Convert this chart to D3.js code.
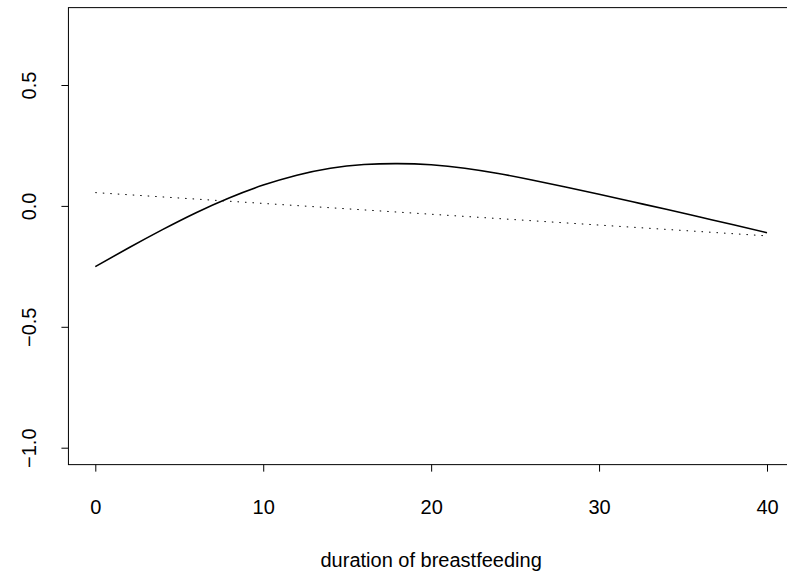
<!DOCTYPE html>
<html>
<head>
<meta charset="utf-8">
<script src="https://cdn.jsdelivr.net/npm/d3@7"></script>
<style>
  html, body { margin: 0; padding: 0; background: #fff; }
  svg { display: block; }
  text { font-family: "Liberation Sans", Arial, sans-serif; fill: #000; }
</style>
</head>
<body>
<script>
// ---- data ----
const durations = [0, 2, 4, 6, 8, 10, 12, 14, 16, 18, 20, 22, 24, 26, 28, 30, 32, 34, 36, 38, 40];
const effect = [-0.251, -0.173, -0.098, -0.028, 0.034, 0.086, 0.127, 0.156, 0.171, 0.175, 0.170,
                0.156, 0.134, 0.107, 0.078, 0.048, 0.017, -0.014, -0.046, -0.078, -0.111];
const linearX = [0, 40];
const linearY = [0.055, -0.124];
const xTicks = [0, 10, 20, 30, 40];
const yTicks = [-1.0, -0.5, 0.0, 0.5];
const xLabel = "duration of breastfeeding";

// ---- layout ----
const W = 787, H = 579;
const svg = d3.select("body").append("svg").attr("width", W).attr("height", H);

const x = d3.scaleLinear().domain([0, 40]).range([95.3, 767]);
const y = d3.scaleLinear().domain([-1, 0.75]).range([447.7, 24.55]);

const pLeft = x(-1.6), pRight = x(41.6), pTop = y(0.82), pBottom = y(-1.07);

// frame
svg.append("rect")
  .attr("x", pLeft).attr("y", pTop)
  .attr("width", pRight - pLeft).attr("height", pBottom - pTop)
  .attr("fill", "none").attr("stroke", "#000").attr("stroke-width", 1);

const fs = 20;

// x axis
const gx = svg.append("g").attr("transform", `translate(0,${pBottom})`)
  .call(d3.axisBottom(x).tickValues(xTicks).tickSize(7).tickFormat(d3.format("d")));
gx.select(".domain").remove();
gx.selectAll("line").attr("stroke", "#000");
gx.selectAll("text").attr("y", 49.5).attr("dy", 0)
  .attr("font-size", fs).attr("font-family", "Liberation Sans, Arial, sans-serif").attr("fill", "#000");

// y axis
const gy = svg.append("g").attr("transform", `translate(${pLeft},0)`)
  .call(d3.axisLeft(y).tickValues(yTicks).tickSize(7).tickFormat(d3.format(".1f")));
gy.select(".domain").remove();
gy.selectAll("line").attr("stroke", "#000");
gy.selectAll("text")
  .attr("x", 0).attr("dy", 0)
  .attr("transform", "translate(-32,0) rotate(-90)")
  .attr("text-anchor", "middle")
  .attr("font-size", fs).attr("font-family", "Liberation Sans, Arial, sans-serif").attr("fill", "#000");

// axis title
svg.append("text")
  .attr("x", (pLeft + pRight) / 2).attr("y", 567)
  .attr("text-anchor", "middle").attr("font-size", fs)
  .text(xLabel);

// lines
const line = d3.line().x(d => x(d[0])).y(d => y(d[1])).curve(d3.curveNatural);

svg.append("path")
  .datum(durations.map((d, i) => [d, effect[i]]))
  .attr("d", line)
  .attr("fill", "none").attr("stroke", "#000").attr("stroke-width", 1.6);

svg.append("path")
  .datum(linearX.map((d, i) => [d, linearY[i]]))
  .attr("d", d3.line().x(d => x(d[0])).y(d => y(d[1])))
  .attr("fill", "none").attr("stroke", "#000").attr("stroke-width", 1)
  .attr("stroke-dasharray", "1.5,6");
</script>
</body>
</html>
